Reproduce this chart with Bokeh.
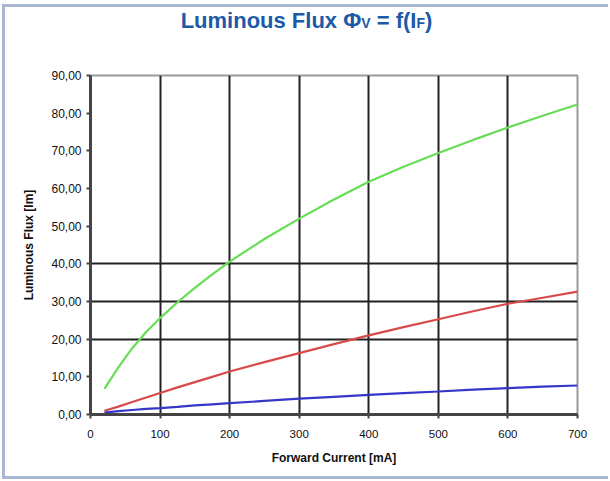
from bokeh.plotting import figure
from bokeh.models import FixedTicker, Div
from bokeh.layouts import column
from bokeh.embed import file_html
from bokeh.resources import INLINE

current_ma = [20, 40, 60, 80, 100, 125, 150, 175, 200, 250, 300, 350,
              400, 450, 500, 550, 600, 650, 700]
flux_green = [6.8, 12.5, 17.6, 21.9, 25.6, 29.8, 33.6, 37.2, 40.6, 46.6, 52.0, 57.1,
              61.8, 65.8, 69.4, 72.9, 76.2, 79.3, 82.3]
flux_red = [1.0, 2.1, 3.3, 4.5, 5.7, 7.2, 8.6, 10.0, 11.4, 13.9, 16.3, 18.7,
            21.0, 23.2, 25.3, 27.4, 29.4, 31.0, 32.6]
flux_blue = [0.5, 0.9, 1.2, 1.5, 1.7, 2.0, 2.4, 2.7, 3.0, 3.6, 4.2, 4.7,
             5.2, 5.7, 6.1, 6.6, 7.0, 7.4, 7.7]

x_ticks = [0, 100, 200, 300, 400, 500, 600, 700]
y_ticks = [0, 10, 20, 30, 40, 50, 60, 70, 80, 90]
y_tick_labels = ["0,00", "10,00", "20,00", "30,00", "40,00", "50,00",
                 "60,00", "70,00", "80,00", "90,00"]
x_grid_at = [100, 200, 300, 400, 500, 600]
y_grid_at = [20, 30, 40]

FW, FHt = 603, 419
title_html = ('<div style="font-family:\'Liberation Sans\',Arial,sans-serif;font-weight:bold;'
              'color:#1c5aa8;font-size:22px;line-height:22px;text-align:center;'
              'width:%dpx;padding-top:3px;">'
              'Luminous Flux \u03a6<span style="font-size:14px">V</span> = '
              'f(I<span style="font-size:14px">F</span>)</div>' % FW)
title_div = Div(text=title_html, width=FW, height=50, margin=(0, 0, 0, 0))

p = figure(width=FW, height=FHt, output_backend="svg", toolbar_location=None,
           x_range=(0, 700), y_range=(0, 90),
           min_border_left=85, min_border_right=FW - 572,
           min_border_top=18, min_border_bottom=62, margin=(0, 0, 0, 0))
p.background_fill_color = "white"
p.border_fill_color = "white"
p.outline_line_color = "#999999"
p.outline_line_width = 2

p.xaxis.ticker = FixedTicker(ticks=x_ticks)
p.yaxis.ticker = FixedTicker(ticks=y_ticks)
p.yaxis.major_label_overrides = {t: l for t, l in zip(y_ticks, y_tick_labels)}
for ax in (p.xaxis, p.yaxis):
    ax.axis_line_color = "#444444"
    ax.axis_line_width = 3
    ax.major_tick_line_color = "#444444"
    ax.major_tick_line_width = 2
    ax.major_tick_in = 0
    ax.major_tick_out = 4
    ax.minor_tick_line_color = None
    ax.major_label_text_font = "Liberation Sans"
    ax.major_label_text_color = "#111111"
    ax.axis_label_text_font = "Liberation Sans"
    ax.axis_label_text_font_style = "bold"
    ax.axis_label_text_font_size = "12px"
    ax.axis_label_text_color = "#111111"
p.yaxis.major_label_text_font_size = "12px"
p.xaxis.major_label_text_font_size = "11.5px"
p.xaxis.major_label_standoff = 11
p.yaxis.major_label_standoff = 5
p.xaxis.axis_label = "Forward Current [mA]"
p.yaxis.axis_label = "Luminous Flux [lm]"
p.xaxis.axis_label_standoff = 10
p.yaxis.axis_label_standoff = 12

p.xgrid.ticker = FixedTicker(ticks=x_grid_at)
p.ygrid.ticker = FixedTicker(ticks=y_grid_at)
p.xgrid.grid_line_color = "#222222"
p.xgrid.grid_line_width = 2
p.ygrid.grid_line_color = "#222222"
p.ygrid.grid_line_width = 2

p.line(current_ma, flux_green, line_color="#66dd55", line_width=2.2)
p.line(current_ma, flux_red, line_color="#d84a4a", line_width=2.2)
p.line(current_ma, flux_blue, line_color="#3636c8", line_width=2.2)

layout = column(title_div, p, spacing=0, margin=(4, 0, 0, 2),
                styles={"border-top": "3px solid #a8b8d4",
                        "border-left": "3px solid #a8b8d4",
                        "border-bottom": "3px solid #a8b8d4"})

open("out.html", "w").write(file_html(layout, INLINE))
